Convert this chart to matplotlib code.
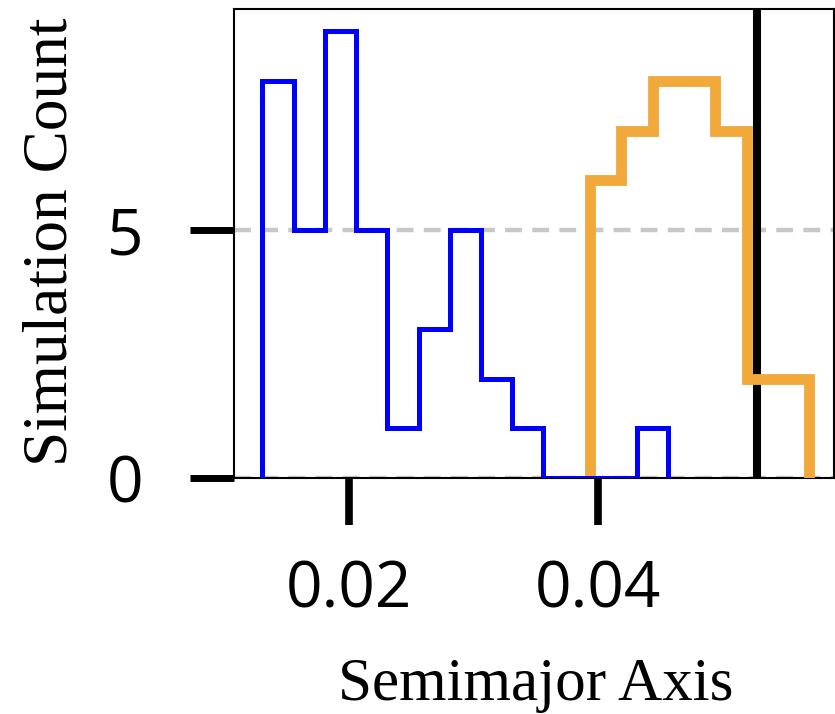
import numpy as np
import matplotlib
matplotlib.use("Agg")
import matplotlib.pyplot as plt

# ---- data ----
blue_counts = [8, 5, 9, 5, 1, 3, 5, 2, 1, 0, 0, 0, 1]
blue_range = (0.01304, 0.04565)
orange_counts = [6, 7, 8, 8, 7, 2, 2]
orange_range = (0.03936, 0.05697)
ref_line_x = 0.05275
xticks = [0.02, 0.04]
xtick_labels = ["0.02", "0.04"]
yticks = [0, 5]
yticklabels = ["0", "5"]

blue_edges = np.linspace(blue_range[0], blue_range[1], len(blue_counts) + 1)
orange_edges = np.linspace(orange_range[0], orange_range[1], len(orange_counts) + 1)

fig = plt.figure(figsize=(8.35, 7.14), dpi=100)
ax = fig.add_axes([234/835, 1 - 478/714, (834 - 234)/835, (478 - 9)/714])

ax.axvline(ref_line_x, color="black", lw=5.8, zorder=2)
ax.stairs(orange_counts, orange_edges, color="#f1a93c", lw=7.8, zorder=3)
ax.stairs(blue_counts, blue_edges, color="#0000ff", lw=3.6, zorder=4)

ax.set_xlim(0.01076, 0.05896)
ax.set_ylim(0, 9.45)

ax.set_yticks(yticks)
ax.set_yticklabels(yticklabels)
ax.set_xticks(xticks)
ax.set_xticklabels(xtick_labels)

ax.yaxis.grid(True, color="#c8c8c8", lw=3.2, linestyle=(0, (3.8, 2.3)), zorder=1)
ax.set_axisbelow(True)

for s in ax.spines.values():
    s.set_linewidth(1.5)
    s.set_color("black")

ax.tick_params(axis="y", length=32, width=5, pad=33, direction="out")
ax.tick_params(axis="x", length=34, width=5.5, pad=24, direction="out")
for lab in ax.get_xticklabels() + ax.get_yticklabels():
    lab.set_fontfamily(["Open Sans", "DejaVu Sans"])
    lab.set_fontsize(46)

fig.text(52/835, 1 - 242/714, "Simulation Count", rotation=90, ha="center", va="center",
         family=["Liberation Serif", "DejaVu Serif"], fontsize=45.5)
fig.text(536/835, 1 - 700/714, "Semimajor Axis", ha="center", va="baseline",
         family=["Liberation Serif", "DejaVu Serif"], fontsize=44)

fig.savefig("out.png", dpi=100)
